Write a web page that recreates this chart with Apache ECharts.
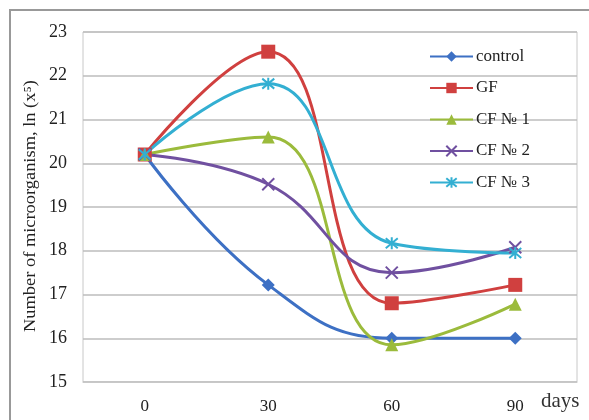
<!DOCTYPE html>
<html><head><meta charset="utf-8">
<script src="https://cdn.jsdelivr.net/npm/echarts@6/dist/echarts.min.js"></script>
<style>html,body{margin:0;padding:0;background:#fff}#c{width:589px;height:420px}</style>
</head><body><div id="c"></div>
<script>
var categories = ['0', '30', '60', '90'];
var control = [20.2, 17.22, 16.0, 16.0];
var gf = [20.2, 22.55, 16.8, 17.22];
var cf1 = [20.2, 20.6, 15.85, 16.78];
var cf2 = [20.2, 19.52, 17.5, 18.08];
var cf3 = [20.2, 21.82, 18.17, 17.95];
var seriesNames = ['control', 'GF', 'CF \u2116 1', 'CF \u2116 2', 'CF \u2116 3'];
var yTitle = 'Number of microorganism, ln (x\u2075)';
var xUnit = 'days';
var font = '"Liberation Serif", "DejaVu Serif", serif';

var xPath = 'path://M0,0L10,10M10,0L0,10';
var starPath = 'path://M0,0L10,10M10,0L0,10M5,-1L5,11';

function mk(name, data, color, symbol, size, stroke) {
  return {
    name: name, type: 'line', data: data, smooth: 0.45,
    symbol: symbol, symbolSize: size,
    lineStyle: {color: color, width: 3},
    itemStyle: stroke ? {color: 'rgba(0,0,0,0)', borderColor: color, borderWidth: 2} : {color: color},
    emphasis: {disabled: true}, z: 3
  };
}

var chart = echarts.init(document.getElementById('c'));
chart.setOption({
  animation: false,
  backgroundColor: '#fff',
  grid: {left: 83, top: 32, right: 12, bottom: 38, show: true, borderColor: '#c8c8c8', borderWidth: 1},
  xAxis: {
    type: 'category', data: categories, boundaryGap: true,
    axisLine: {show: true, lineStyle: {color: '#c8c8c8'}}, axisTick: {show: false},
    axisLabel: {fontFamily: font, fontSize: 17, color: '#222', margin: 16}
  },
  yAxis: {
    type: 'value', min: 15, max: 23, interval: 1,
    axisLine: {show: false}, axisTick: {show: false},
    axisLabel: {fontFamily: font, fontSize: 18, color: '#222', margin: 16},
    splitLine: {lineStyle: {color: '#bdbdbd', width: 1.5}}
  },
  legend: {
    orient: 'vertical', left: 424, top: 43, itemWidth: 43, itemHeight: 13, itemGap: 14.5,
    textStyle: {fontFamily: font, fontSize: 17, color: '#222', padding: [0, 0, 0, -2]},
    data: seriesNames
  },
  graphic: [
    {type: 'rect', shape: {x: 10, y: 10, width: 600, height: 430}, style: {fill: 'none', stroke: '#999', lineWidth: 2}, silent: true},
    {type: 'text', x: 541, y: 391, style: {text: xUnit, font: '21px ' + font, fill: '#333'}},
    {type: 'text', x: 31, y: 206, rotation: Math.PI / 2, scaleX: 1.15,
     style: {text: yTitle, font: '16px ' + font, fill: '#222', align: 'center', verticalAlign: 'middle'}}
  ],
  series: [
    mk(seriesNames[0], control, '#3d70c4', 'diamond', 13, false),
    mk(seriesNames[1], gf, '#d0403f', 'rect', 14, false),
    mk(seriesNames[2], cf1, '#9bbb3c', 'triangle', 13, false),
    mk(seriesNames[3], cf2, '#7050a0', xPath, 12, true),
    mk(seriesNames[4], cf3, '#33afd2', starPath, 12, true)
  ]
});
</script></body></html>
